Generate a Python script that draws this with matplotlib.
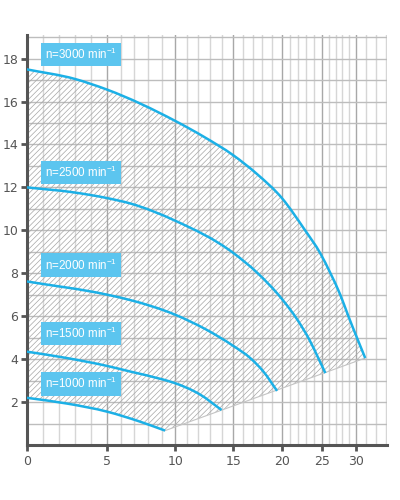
import numpy as np
import matplotlib
matplotlib.use('Agg')
import matplotlib.pyplot as plt
import matplotlib.ticker as ticker
from matplotlib.path import Path
from matplotlib.patches import PathPatch

# Q-H curves, one per speed
q_3000 = [0, 3, 5, 10, 12.5, 15, 17.5, 20, 22.8, 24.8, 26.25, 27.7, 28.9, 30.1, 31.4]
h_3000 = [17.5, 17.05, 16.55, 15.1, 14.35, 13.5, 12.6, 11.5, 10.05, 8.92, 8.0, 7.0, 6.0, 5.05, 4.05]

q_2500 = [0, 2.9, 5, 6.7, 10, 15, 17.4, 20, 21.9, 23.5, 24.6, 25.5]
h_2500 = [12.0, 11.77, 11.5, 11.25, 10.45, 8.95, 8.05, 6.8, 5.85, 4.85, 4.0, 3.35]

q_2000 = [0, 5, 6.7, 10, 12.7, 15, 16.75, 18.1, 19.5]
h_2000 = [7.62, 7.0, 6.75, 6.07, 5.37, 4.62, 4.05, 3.42, 2.52]

q_1500 = [0, 2.5, 5, 6.7, 9.1, 9.9, 12.15, 14.0]
h_1500 = [4.35, 4.05, 3.68, 3.42, 3.05, 2.9, 2.35, 1.63]

q_1000 = [0, 2.5, 5, 7.4, 9.26]
h_1000 = [2.2, 1.93, 1.55, 1.09, 0.67]

speeds = ['3000', '2500', '2000', '1500', '1000']
label_h = [18.2, 12.7, 8.38, 5.2, 2.85]

x_ticks = [0, 5, 10, 15, 20, 25, 30]
y_ticks = [2, 4, 6, 8, 10, 12, 14, 16, 18]

# the flow axis is squeezed towards the right, measured from the tick spacing
scale_q = [0, 5, 10, 15, 20, 25, 30, 40]
scale_p = [0, 80.6, 148.3, 206.3, 255, 295, 328.8, 395.8]

LINE = '#1cb0e6'
BOX = '#5cc5ef'


def fwd(q):
    return np.interp(q, scale_q, scale_p)


def inv(p):
    return np.interp(p, scale_p, scale_q)


def smooth(q, h):
    # cubic hermite through the read points (scaled x), written as bezier pieces
    x = fwd(np.asarray(q, float))
    y = np.asarray(h, float)
    dx = np.diff(x)
    d = np.diff(y) / dx
    m = np.empty_like(y)
    m[0], m[-1] = d[0], d[-1]
    m[1:-1] = (dx[1:] * d[:-1] + dx[:-1] * d[1:]) / (dx[1:] + dx[:-1])
    verts = [(x[0], y[0])]
    codes = [Path.MOVETO]
    for i in range(len(x) - 1):
        k = dx[i] / 3
        verts += [(x[i] + k, y[i] + m[i] * k), (x[i + 1] - k, y[i + 1] - m[i + 1] * k),
                  (x[i + 1], y[i + 1])]
        codes += [Path.CURVE4] * 3
    return verts, codes


def main():
    plt.rcParams['font.family'] = ['DejaVu Sans']
    plt.rcParams['mathtext.fontset'] = 'custom'
    plt.rcParams['mathtext.rm'] = 'Liberation Sans'
    plt.rcParams['hatch.linewidth'] = 0.5

    fig = plt.figure(figsize=(4, 5), dpi=100)
    ax = fig.add_axes([0.0667, 0.11, 0.9, 0.82])
    ax.set_xscale('function', functions=(fwd, inv))
    ax.set_xlim(0, 34.6)
    ax.set_ylim(0, 19.1)
    scaled = ax.transLimits + ax.transAxes

    # grid
    ax.xaxis.set_major_locator(ticker.FixedLocator(x_ticks))
    ax.xaxis.set_minor_locator(ticker.FixedLocator(list(range(1, 31)) + [31.5, 33, 34.5]))
    ax.yaxis.set_major_locator(ticker.FixedLocator(y_ticks))
    ax.yaxis.set_minor_locator(ticker.FixedLocator(list(range(1, 20, 2))))
    ax.set_axisbelow(True)
    ax.grid(axis='x', which='major', color='#a8a8a8', linewidth=1.0)
    ax.grid(axis='x', which='minor', color='#d6d6d6', linewidth=1.0)
    ax.grid(axis='y', which='both', color='#bdbdbd', linewidth=1.0)

    # hatched working area: top curve, straight system line, bottom curve back
    v_top, c_top = smooth(q_3000, h_3000)
    v_bot, c_bot = smooth(q_1000, h_1000)
    v_bot = v_bot[::-1]
    verts = v_top + v_bot + [v_top[0]]
    codes = c_top + [Path.LINETO] + c_bot[1:] + [Path.CLOSEPOLY]
    area = PathPatch(Path(verts, codes), facecolor='none', edgecolor='#a6a6a6',
                     hatch='//////', linewidth=0, transform=scaled, zorder=1)
    ax.add_patch(area)
    ax.plot([q_1000[-1], q_3000[-1]], [h_1000[-1], h_3000[-1]],
            color='#c4c4c4', linewidth=0.8, zorder=1)

    curves = [(q_3000, h_3000), (q_2500, h_2500), (q_2000, h_2000),
              (q_1500, h_1500), (q_1000, h_1000)]
    for q, h in curves:
        v, c = smooth(q, h)
        ax.add_patch(PathPatch(Path(v, c), facecolor='none', edgecolor=LINE,
                               linewidth=1.8, capstyle='butt', transform=scaled, zorder=3))

    for s, yh in zip(speeds, label_h):
        ax.text(1.15, yh, 'n=' + s + r' min$^{-1}$', color='white', fontsize=8.4,
                family=['Liberation Sans', 'DejaVu Sans'],
                ha='left', va='center', zorder=4,
                bbox=dict(boxstyle='square,pad=0.36', facecolor=BOX, edgecolor='none'))

    for side in ['top', 'right']:
        ax.spines[side].set_visible(False)
    for side in ['left', 'bottom']:
        ax.spines[side].set_color('#555555')
        ax.spines[side].set_linewidth(2.2)

    ax.xaxis.set_major_formatter(ticker.FixedFormatter([str(v) for v in x_ticks]))
    ax.yaxis.set_major_formatter(ticker.FixedFormatter([str(v) for v in y_ticks]))
    ax.tick_params(which='major', direction='out', length=4, width=2,
                   color='#555555', labelcolor='#555555', labelsize=9)
    ax.tick_params(axis='y', which='major', pad=2)
    ax.tick_params(axis='x', which='major', pad=3)
    ax.tick_params(which='minor', length=0)

    fig.savefig('out.png', dpi=100)


if __name__ == '__main__':
    main()
